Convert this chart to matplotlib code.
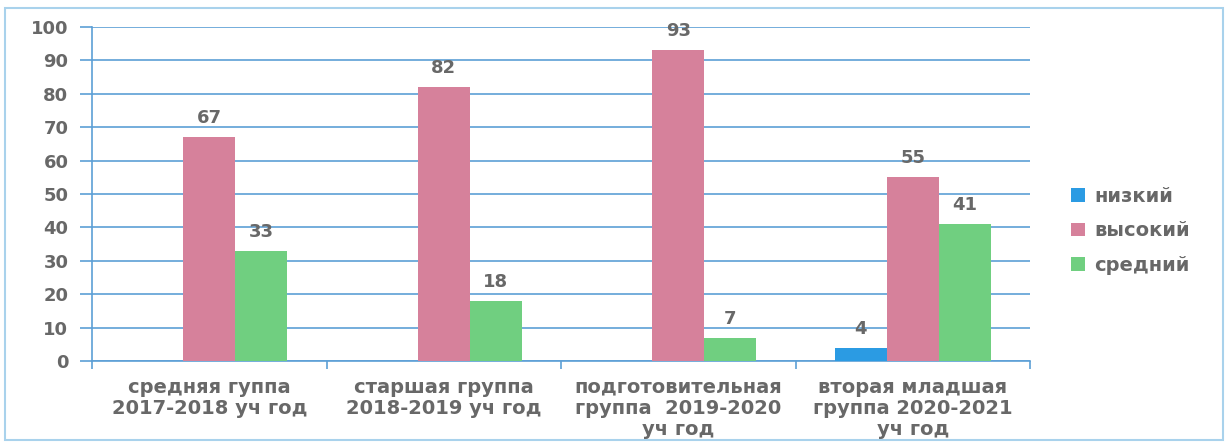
import matplotlib.pyplot as plt
import numpy as np
from matplotlib.patches import Rectangle

categories = ['средняя гуппа\n2017-2018 уч год',
              'старшая группа\n2018-2019 уч год',
              'подготовительная\nгруппа  2019-2020\nуч год',
              'вторая младшая\nгруппа 2020-2021\nуч год']
series = ['низкий', 'высокий', 'средний']
nizkiy = [0, 0, 0, 4]
vysokiy = [67, 82, 93, 55]
sredniy = [33, 18, 7, 41]
colors = ['#2b9be3', '#d6819b', '#70cf80']

grid_c = '#5c9fd6'
text_c = '#686868'

plt.rcParams['font.weight'] = 'bold'

fig = plt.figure(figsize=(12.27, 4.47), dpi=100)
fig.patches.append(Rectangle((0.004, 0.015), 0.993, 0.968, transform=fig.transFigure,
                             fill=False, edgecolor='#a9d2ec', linewidth=1.5))
ax = fig.add_axes([0.075, 0.1924, 0.7645, 0.7472])

x = np.arange(len(categories))
w = 0.222
data = [nizkiy, vysokiy, sredniy]
for i, (name, vals) in enumerate(zip(series, data)):
    pos = x + (i - 1) * w
    bars = ax.bar(pos, vals, w, color=colors[i], label=name, zorder=3)
    for b, v in zip(bars, vals):
        if v > 0:
            ax.text(b.get_x() + b.get_width() / 2, v + 3, str(v), ha='center', va='bottom',
                    fontsize=13, color=text_c, zorder=4)

ax.set_xlim(-0.5, 3.5)
ax.set_ylim(0, 100)
ax.set_yticks(range(0, 101, 10))
ax.set_xticks([-0.5, 0.5, 1.5, 2.5, 3.5], minor=False)
ax.set_xticklabels([])
ax.set_xticks(x, minor=True)
ax.set_xticklabels(categories, minor=True, fontsize=14, color=text_c, linespacing=1.15)
ax.tick_params(axis='x', which='minor', length=0, pad=12)
ax.tick_params(axis='x', which='major', length=6, color=grid_c, width=1.2)
ax.tick_params(axis='y', length=9, color=grid_c, width=1.2, labelsize=13, labelcolor=text_c, pad=8)
ax.yaxis.grid(True, color=grid_c, linewidth=1.2, zorder=0)
for s in ['top', 'right']:
    ax.spines[s].set_visible(False)
ax.spines['left'].set_color(grid_c)
ax.spines['bottom'].set_color(grid_c)
ax.spines['left'].set_linewidth(1.2)
ax.spines['bottom'].set_linewidth(1.2)

ax.legend(loc='center left', bbox_to_anchor=(1.025, 0.39), frameon=False, fontsize=14,
          labelcolor=text_c, handlelength=0.7, handleheight=0.7, handletextpad=0.5,
          labelspacing=0.8)

fig.savefig('out.png', dpi=100, facecolor='white')
